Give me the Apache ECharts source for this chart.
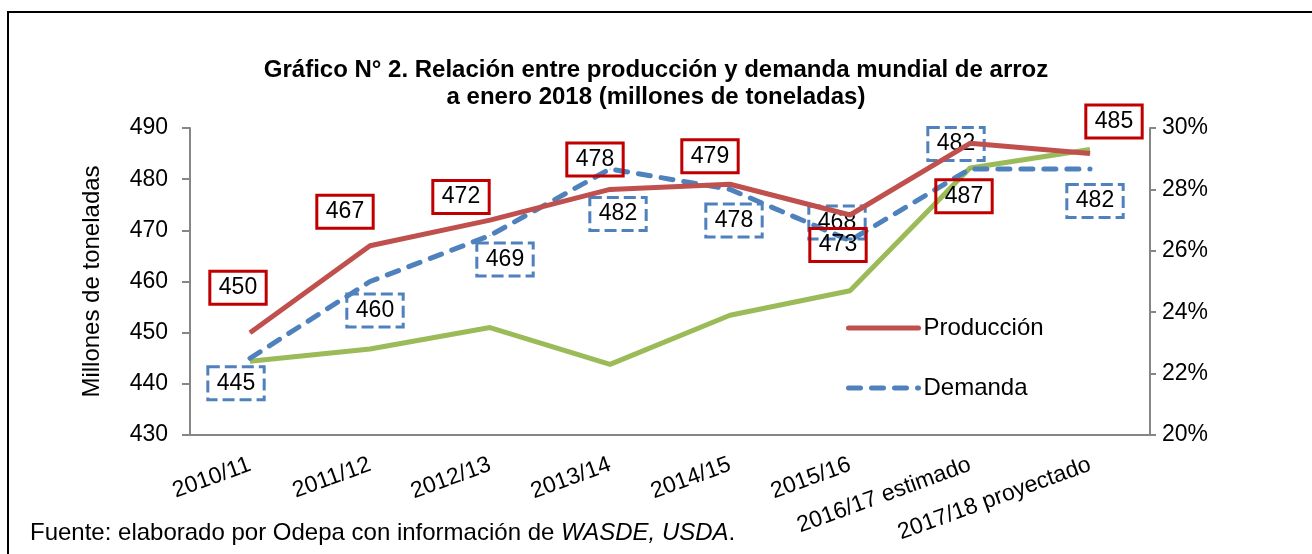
<!DOCTYPE html>
<html>
<head>
<meta charset="utf-8">
<script src="https://cdn.jsdelivr.net/npm/echarts@6/dist/echarts.min.js"></script>
<style>
  html, body { margin: 0; padding: 0; background: #fff; }
  #main { width: 1312px; height: 554px; }
</style>
</head>
<body>
<div id="main"></div>
<script>
// datos
var temporadas = ['2010/11', '2011/12', '2012/13', '2013/14', '2014/15', '2015/16', '2016/17 estimado', '2017/18 proyectado'];
var produccion = [450, 467, 472, 478, 479, 473, 487, 485];
var demanda = [445, 460, 469, 482, 478, 468, 482, 482];
var relacion = [22.4, 22.8, 23.5, 22.3, 23.9, 24.7, 28.7, 29.3];

// desplazamiento de las etiquetas (px)
var offsetProd = [[-12, -45], [-25, -34], [-29, -23], [-15, -30], [-20, -28], [-12, 30], [-6, 53], [24, -32]];
var offsetDem = [[-14, 25], [5, 29], [15, 24], [8, 45], [4, 31], [-13, -18], [-14, -25], [5, 32]];

var FONT = '"Liberation Sans", Arial, sans-serif';

function conEtiquetas(valores, offsets, estilo) {
    return valores.map(function (v, i) {
        return {
            value: v,
            label: Object.assign({ offset: offsets[i] }, estilo)
        };
    });
}

var labelBase = {
    show: true,
    position: 'inside',
    fontFamily: FONT,
    fontSize: 23,
    color: '#000',
    padding: [6, 9, 4, 9],
    borderWidth: 3
};

var myChart = echarts.init(document.getElementById('main'));

myChart.setOption({
    backgroundColor: '#ffffff',
    animation: false,
    title: {
        text: 'Gráfico N° 2. Relación entre producción y demanda mundial de arroz\na enero 2018 (millones de toneladas)',
        left: 'center',
        top: 52,
        textStyle: {
            fontFamily: FONT,
            fontSize: 24,
            fontWeight: 'bold',
            lineHeight: 27,
            color: '#000'
        }
    },
    legend: {
        data: ['Producción', 'Demanda'],
        orient: 'vertical',
        left: 841,
        top: 311,
        itemWidth: 70,
        itemHeight: 14,
        itemGap: 36,
        itemStyle: { opacity: 0 },
        lineStyle: { width: 5, cap: 'round' },
        textStyle: { fontFamily: FONT, fontSize: 24, color: '#000' }
    },
    grid: {
        left: 190,
        right: 162,
        top: 128,
        bottom: 119
    },
    xAxis: {
        type: 'category',
        data: temporadas,
        boundaryGap: true,
        axisLine: { lineStyle: { color: '#868686', width: 2 } },
        axisTick: { show: false },
        axisLabel: {
            rotate: 20,
            interval: 0,
            margin: 29,
            fontFamily: FONT,
            fontSize: 23,
            color: '#000'
        }
    },
    yAxis: [{
        type: 'value',
        min: 430,
        max: 490,
        interval: 10,
        name: 'Millones de toneladas',
        nameLocation: 'middle',
        nameGap: 86,
        nameTextStyle: { fontFamily: FONT, fontSize: 24, color: '#000' },
        splitLine: { show: false },
        axisLine: { show: true, lineStyle: { color: '#868686', width: 2 } },
        axisTick: { show: true, length: 8, lineStyle: { color: '#868686', width: 2 } },
        axisLabel: { margin: 22, fontFamily: FONT, fontSize: 23, color: '#000' }
    }, {
        type: 'value',
        min: 20,
        max: 30,
        interval: 2,
        position: 'right',
        splitLine: { show: false },
        axisLine: { show: true, lineStyle: { color: '#868686', width: 2 } },
        axisTick: { show: true, length: 6, lineStyle: { color: '#868686', width: 2 } },
        axisLabel: { margin: 12, formatter: '{value}%', fontFamily: FONT, fontSize: 23, color: '#000' }
    }],
    series: [{
        name: 'Relación stock/uso',
        type: 'line',
        yAxisIndex: 1,
        data: relacion,
        symbol: 'none',
        z: 2,
        lineStyle: { color: '#9BBB59', width: 5 },
        itemStyle: { color: '#9BBB59' }
    }, {
        name: 'Demanda',
        type: 'line',
        data: conEtiquetas(demanda, offsetDem, Object.assign({}, labelBase, {
            borderColor: '#4F81BD',
            borderType: [12, 5]
        })),
        symbol: 'circle',
        symbolSize: 1,
        z: 3,
        lineStyle: { color: '#4F81BD', width: 5, type: [12, 11], cap: 'round' },
        itemStyle: { color: '#4F81BD' }
    }, {
        name: 'Producción',
        type: 'line',
        data: conEtiquetas(produccion, offsetProd, Object.assign({}, labelBase, {
            borderColor: '#C00000'
        })),
        symbol: 'circle',
        symbolSize: 1,
        z: 4,
        lineStyle: { color: '#C0504D', width: 5 },
        itemStyle: { color: '#C0504D' }
    }],
    graphic: [{
        type: 'rect',
        shape: { x: 8, y: 12, width: 1330, height: 580 },
        style: { fill: 'none', stroke: '#000', lineWidth: 2 },
        silent: true
    }, {
        type: 'text',
        left: 30,
        top: 521,
        style: {
            text: '{n|Fuente: elaborado por Odepa con información de }{i|WASDE, USDA}{n|.}',
            rich: {
                n: { fontFamily: FONT, fontSize: 24, fill: '#000' },
                i: { fontFamily: FONT, fontSize: 24, fontStyle: 'italic', fill: '#000' }
            }
        }
    }]
});
</script>
</body>
</html>
